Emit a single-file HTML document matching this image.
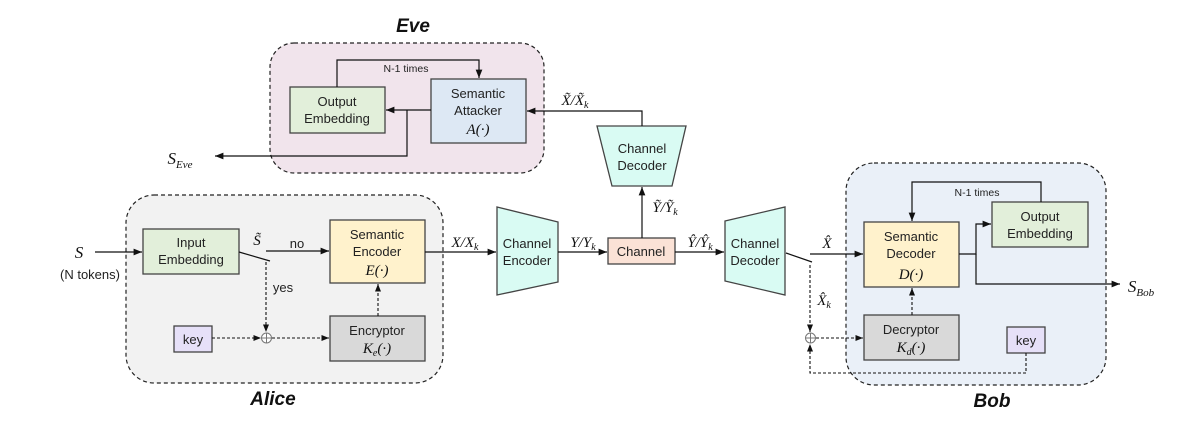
<!DOCTYPE html>
<html><head><meta charset="utf-8"><style>
html,body{margin:0;padding:0;background:#fff;}
svg text{font-family:"Liberation Sans",sans-serif;}
svg .m text{font-family:"Liberation Serif",serif;font-style:italic;}
</style></head><body>
<svg width="1187" height="423" viewBox="0 0 1187 423" xmlns="http://www.w3.org/2000/svg">
<defs>
<marker id="a" viewBox="0 0 10 10" refX="10" refY="5" markerWidth="7" markerHeight="7" orient="auto-start-reverse"><path d="M0,1 L10,5 L0,9 z" fill="#111"/></marker>
</defs>
<g stroke="#222" stroke-width="1.2" stroke-dasharray="4,3">
<rect x="270" y="43" width="274" height="130" rx="24" fill="#f1e4ec"/>
<rect x="126" y="195" width="317" height="188" rx="28" fill="#f2f2f2"/>
<rect x="846" y="163" width="260" height="222" rx="28" fill="#eaf0f8"/>
</g>
<g font-size="19" font-weight="bold" font-style="italic" text-anchor="middle" fill="#111">
<text x="413" y="32">Eve</text><text x="273" y="405">Alice</text><text x="992" y="407">Bob</text>
</g>
<g stroke="#444" stroke-width="1.3">
<rect x="290" y="87" width="95" height="46" fill="#e2efda"/>
<rect x="431" y="79" width="95" height="64" fill="#dde8f4"/>
<rect x="143" y="229" width="96" height="45" fill="#e2efda"/>
<rect x="330" y="220" width="95" height="63" fill="#fff2cc"/>
<rect x="330" y="316" width="95" height="45" fill="#d9d9d9"/>
<rect x="174" y="326" width="38" height="26" fill="#e6e0f8"/>
<rect x="864" y="222" width="95" height="65" fill="#fff2cc"/>
<rect x="992" y="202" width="96" height="45" fill="#e2efda"/>
<rect x="864" y="315" width="95" height="45" fill="#d9d9d9"/>
<rect x="1007" y="327" width="38" height="26" fill="#e6e0f8"/>
<rect x="608" y="238" width="67" height="26" fill="#fbe2d6"/>
<polygon points="497,207 558,222 558,282 497,295" fill="#d9fbf3"/>
<polygon points="725,221 785,207 785,295 725,281" fill="#d9fbf3"/>
<polygon points="597,126 686,126 672,186 612,186" fill="#d9fbf3"/>
</g>
<g stroke="#111" stroke-width="1.2" fill="none">
<polyline points="337,87 337,60 479,60 479,78" marker-end="url(#a)"/>
<line x1="431" y1="110" x2="386" y2="110" marker-end="url(#a)"/>
<polyline points="407,110 407,156 215,156" marker-end="url(#a)"/>
<polyline points="642,126 642,111 527,111" marker-end="url(#a)"/>
<line x1="642" y1="238" x2="642" y2="187" marker-end="url(#a)"/>
<line x1="95" y1="252" x2="142" y2="252" marker-end="url(#a)"/>
<line x1="239" y1="252" x2="270" y2="261"/>
<line x1="266" y1="251" x2="329" y2="251" marker-end="url(#a)"/>
<line x1="425" y1="252" x2="496" y2="252" marker-end="url(#a)"/>
<line x1="558" y1="252" x2="607" y2="252" marker-end="url(#a)"/>
<line x1="675" y1="252" x2="724" y2="252" marker-end="url(#a)"/>
<line x1="786" y1="253" x2="812" y2="262"/>
<line x1="810" y1="254" x2="863" y2="254" marker-end="url(#a)"/>
<polyline points="1041,202 1041,182 912,182 912,221" marker-end="url(#a)"/>
<polyline points="959,254 976,254 976,224 991,224" marker-end="url(#a)"/>
<polyline points="976,254 976,284 1120,284" marker-end="url(#a)"/>
</g>
<g stroke="#111" stroke-width="1.1" fill="none" stroke-dasharray="3,2">
<line x1="266" y1="262" x2="266" y2="332" marker-end="url(#a)"/>
<line x1="212" y1="338" x2="261" y2="338" marker-end="url(#a)"/>
<line x1="272" y1="338" x2="329" y2="338" marker-end="url(#a)"/>
<line x1="378" y1="316" x2="378" y2="284" marker-end="url(#a)"/>
<line x1="810" y1="265" x2="810" y2="332" marker-end="url(#a)"/>
<line x1="816" y1="338" x2="863" y2="338" marker-end="url(#a)"/>
<line x1="912" y1="315" x2="912" y2="288" marker-end="url(#a)"/>
<polyline points="1026,353 1026,373 810,373 810,344" marker-end="url(#a)"/>
</g>
<g stroke="#777" stroke-width="1" fill="#fff">
<circle cx="266.5" cy="338" r="5"/><path d="M261.5,338h10M266.5,333v10"/>
<circle cx="810.5" cy="338" r="5"/><path d="M805.5,338h10M810.5,333v10"/>
</g>
<g font-size="13" text-anchor="middle" fill="#222">
<text x="337" y="106">Output</text><text x="337" y="123">Embedding</text>
<text x="478" y="98">Semantic</text><text x="478" y="115">Attacker</text>
<text x="191" y="247">Input</text><text x="191" y="264">Embedding</text>
<text x="377" y="239">Semantic</text><text x="377" y="256">Encoder</text>
<text x="377" y="335">Encryptor</text>
<text x="193" y="344">key</text>
<text x="911" y="241">Semantic</text><text x="911" y="258">Decoder</text>
<text x="1040" y="221">Output</text><text x="1040" y="238">Embedding</text>
<text x="911" y="334">Decryptor</text>
<text x="1026" y="345">key</text>
<text x="641" y="256">Channel</text>
<text x="527" y="248">Channel</text><text x="527" y="265">Encoder</text>
<text x="755" y="248">Channel</text><text x="755" y="265">Decoder</text>
<text x="642" y="153">Channel</text><text x="642" y="170">Decoder</text>
<text x="297" y="248">no</text><text x="283" y="292">yes</text>
<text x="90" y="279">(N tokens)</text>
</g>
<g font-size="10.5" text-anchor="middle" fill="#222">
<text x="406" y="72">N-1 times</text><text x="977" y="196">N-1 times</text>
</g>
<g class="m" font-size="15" fill="#111" text-anchor="middle">
<text x="478" y="134">A(·)</text>
<text x="377" y="275">E(·)</text>
<text x="377" y="353">K<tspan font-size="10" dy="3">e</tspan><tspan dy="-3">(·)</tspan></text>
<text x="911" y="279">D(·)</text>
<text x="911" y="352">K<tspan font-size="10" dy="3">d</tspan><tspan dy="-3">(·)</tspan></text>
<text x="79" y="258" font-size="17">S</text>
<text x="257" y="245">S̃</text>
<text x="465" y="247">X/X<tspan font-size="10" dy="3">k</tspan></text>
<text x="583" y="247">Y/Y<tspan font-size="10" dy="3">k</tspan></text>
<text x="700" y="247">Ŷ/Ŷ<tspan font-size="10" dy="3">k</tspan></text>
<text x="665" y="212">Ỹ/Ỹ<tspan font-size="10" dy="3">k</tspan></text>
<text x="575" y="105">X̃/X̃<tspan font-size="10" dy="3">k</tspan></text>
<text x="827" y="248">X̂</text>
<text x="824" y="305">X̂<tspan font-size="10" dy="3">k</tspan></text>
<text x="180" y="164" font-size="17">S<tspan font-size="11" dy="4">Eve</tspan></text>
<text x="1141" y="292" font-size="17">S<tspan font-size="11" dy="4">Bob</tspan></text>
</g>
</svg>
</body></html>
